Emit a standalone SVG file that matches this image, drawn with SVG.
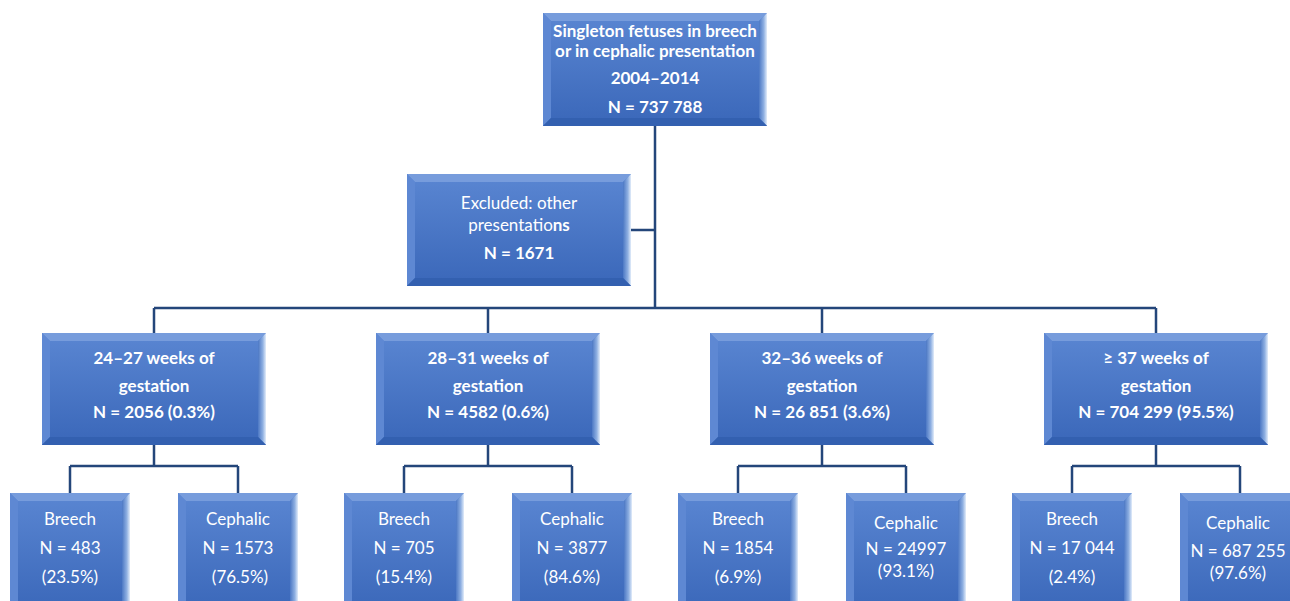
<svg xmlns="http://www.w3.org/2000/svg" width="1290" height="601" viewBox="0 0 1290 601">
<defs>
<linearGradient id="face" x1="0" y1="0" x2="0" y2="1">
<stop offset="0" stop-color="#5A86D2"/>
<stop offset="1" stop-color="#3A67B9"/>
</linearGradient>
<linearGradient id="rgt" x1="0" y1="0" x2="1" y2="0">
<stop offset="0" stop-color="#4C78C4"/>
<stop offset="0.6" stop-color="#8FB0E2"/>
<stop offset="1" stop-color="#E3EDFA"/>
</linearGradient>
<style>
.face{fill:url(#face)}
.bt{fill:#779CDC}
.bl{fill:#5E88D3}
.br{fill:url(#rgt)}
.bb{fill:#3360B0}
.con{stroke:#24467A;stroke-width:2.5;fill:none}
text{font-family:Lato,"Open Sans","Liberation Sans",sans-serif;fill:#fff;text-anchor:middle;font-size:17px}
.b{font-weight:bold}
</style>
</defs>
<rect width="1290" height="601" fill="#fff"/>
<g id="connectors">
<path class="con" d="M655 126V308M631 230H655M154 308H1156"/>
<path class="con" d="M154 308V333M488 308V333M822 308V333M1156 308V333"/>
<path class="con" d="M154 445V466M70 466H238M70 466V493M238 466V493"/>
<path class="con" d="M488 445V466M404 466H572M404 466V493M572 466V493"/>
<path class="con" d="M822 445V466M738 466H906M738 466V493M906 466V493"/>
<path class="con" d="M1156 445V466M1072 466H1240M1072 466V493M1240 466V493"/>
</g>
<g id="n-top">
<rect class="face" x="543" y="13" width="224" height="113"/>
<polygon class="bt" points="543,13 767,13 759,21 551,21"/>
<polygon class="bl" points="543,13 551,21 551,118 543,126"/>
<polygon class="br" points="767,13 767,126 759,118 759,21"/>
<polygon class="bb" points="543,126 767,126 759,118 551,118"/>
<text class="b" x="655" y="37">Singleton fetuses in breech</text>
<text class="b" x="655" y="57">or in cephalic presentation</text>
<text class="b" x="655" y="84">2004–2014</text>
<text class="b" x="655" y="113">N = 737 788</text>
</g>
<g id="n-excluded">
<rect class="face" x="407" y="174" width="224" height="112"/>
<polygon class="bt" points="407,174 631,174 623,182 415,182"/>
<polygon class="bl" points="407,174 415,182 415,278 407,286"/>
<polygon class="br" points="631,174 631,286 623,278 623,182"/>
<polygon class="bb" points="407,286 631,286 623,278 415,278"/>
<text x="519" y="209">Excluded: other</text>
<text x="519" y="231">presentatio<tspan class="b">ns</tspan></text>
<text class="b" x="519" y="259">N = 1671</text>
</g>
<g id="n-24-27">
<rect class="face" x="42" y="333" width="224" height="112"/>
<polygon class="bt" points="42,333 266,333 258,341 50,341"/>
<polygon class="bl" points="42,333 50,341 50,437 42,445"/>
<polygon class="br" points="266,333 266,445 258,437 258,341"/>
<polygon class="bb" points="42,445 266,445 258,437 50,437"/>
<text class="b" x="154" y="364">24–27 weeks of</text>
<text class="b" x="154" y="392">gestation</text>
<text class="b" x="154" y="418">N = 2056 (0.3%)</text>
</g>
<g id="n-28-31">
<rect class="face" x="376" y="333" width="224" height="112"/>
<polygon class="bt" points="376,333 600,333 592,341 384,341"/>
<polygon class="bl" points="376,333 384,341 384,437 376,445"/>
<polygon class="br" points="600,333 600,445 592,437 592,341"/>
<polygon class="bb" points="376,445 600,445 592,437 384,437"/>
<text class="b" x="488" y="364">28–31 weeks of</text>
<text class="b" x="488" y="392">gestation</text>
<text class="b" x="488" y="418">N = 4582 (0.6%)</text>
</g>
<g id="n-32-36">
<rect class="face" x="710" y="333" width="224" height="112"/>
<polygon class="bt" points="710,333 934,333 926,341 718,341"/>
<polygon class="bl" points="710,333 718,341 718,437 710,445"/>
<polygon class="br" points="934,333 934,445 926,437 926,341"/>
<polygon class="bb" points="710,445 934,445 926,437 718,437"/>
<text class="b" x="822" y="364">32–36 weeks of</text>
<text class="b" x="822" y="392">gestation</text>
<text class="b" x="822" y="418">N = 26 851 (3.6%)</text>
</g>
<g id="n-37plus">
<rect class="face" x="1044" y="333" width="224" height="112"/>
<polygon class="bt" points="1044,333 1268,333 1260,341 1052,341"/>
<polygon class="bl" points="1044,333 1052,341 1052,437 1044,445"/>
<polygon class="br" points="1268,333 1268,445 1260,437 1260,341"/>
<polygon class="bb" points="1044,445 1268,445 1260,437 1052,437"/>
<text class="b" x="1156" y="364">≥ 37 weeks of</text>
<text class="b" x="1156" y="392">gestation</text>
<text class="b" x="1156" y="418">N = 704 299 (95.5%)</text>
</g>
<g id="n-b1">
<rect class="face" x="10" y="493" width="120" height="120"/>
<polygon class="bt" points="10,493 130,493 122,501 18,501"/>
<polygon class="bl" points="10,493 18,501 18,613 10,613"/>
<polygon class="br" points="130,493 130,613 122,613 122,501"/>
<text x="70" y="525">Breech</text>
<text x="70" y="554">N = 483</text>
<text x="70" y="583">(23.5%)</text>
</g>
<g id="n-c1">
<rect class="face" x="178" y="493" width="120" height="120"/>
<polygon class="bt" points="178,493 298,493 290,501 186,501"/>
<polygon class="bl" points="178,493 186,501 186,613 178,613"/>
<polygon class="br" points="298,493 298,613 290,613 290,501"/>
<text x="238" y="525">Cephalic</text>
<text x="238" y="554">N = 1573</text>
<text x="240" y="583">(76.5%)</text>
</g>
<g id="n-b2">
<rect class="face" x="344" y="493" width="120" height="120"/>
<polygon class="bt" points="344,493 464,493 456,501 352,501"/>
<polygon class="bl" points="344,493 352,501 352,613 344,613"/>
<polygon class="br" points="464,493 464,613 456,613 456,501"/>
<text x="404" y="525">Breech</text>
<text x="404" y="554">N = 705</text>
<text x="404" y="583">(15.4%)</text>
</g>
<g id="n-c2">
<rect class="face" x="512" y="493" width="120" height="120"/>
<polygon class="bt" points="512,493 632,493 624,501 520,501"/>
<polygon class="bl" points="512,493 520,501 520,613 512,613"/>
<polygon class="br" points="632,493 632,613 624,613 624,501"/>
<text x="572" y="525">Cephalic</text>
<text x="572" y="554">N = 3877</text>
<text x="572" y="583">(84.6%)</text>
</g>
<g id="n-b3">
<rect class="face" x="678" y="493" width="120" height="120"/>
<polygon class="bt" points="678,493 798,493 790,501 686,501"/>
<polygon class="bl" points="678,493 686,501 686,613 678,613"/>
<polygon class="br" points="798,493 798,613 790,613 790,501"/>
<text x="738" y="525">Breech</text>
<text x="738" y="554">N = 1854</text>
<text x="738" y="583">(6.9%)</text>
</g>
<g id="n-c3">
<rect class="face" x="846" y="493" width="120" height="120"/>
<polygon class="bt" points="846,493 966,493 958,501 854,501"/>
<polygon class="bl" points="846,493 854,501 854,613 846,613"/>
<polygon class="br" points="966,493 966,613 958,613 958,501"/>
<text x="906" y="529">Cephalic</text>
<text x="906" y="555">N = 24997</text>
<text x="906" y="577">(93.1%)</text>
</g>
<g id="n-b4">
<rect class="face" x="1012" y="493" width="120" height="120"/>
<polygon class="bt" points="1012,493 1132,493 1124,501 1020,501"/>
<polygon class="bl" points="1012,493 1020,501 1020,613 1012,613"/>
<polygon class="br" points="1132,493 1132,613 1124,613 1124,501"/>
<text x="1072" y="525">Breech</text>
<text x="1072" y="554">N = 17 044</text>
<text x="1072" y="583">(2.4%)</text>
</g>
<g id="n-c4">
<rect class="face" x="1180" y="493" width="120" height="120"/>
<polygon class="bt" points="1180,493 1300,493 1292,501 1188,501"/>
<polygon class="bl" points="1180,493 1188,501 1188,613 1180,613"/>
<text x="1238" y="529">Cephalic</text>
<text x="1238" y="557">N = 687 255</text>
<text x="1238" y="579">(97.6%)</text>
</g>
</svg>
